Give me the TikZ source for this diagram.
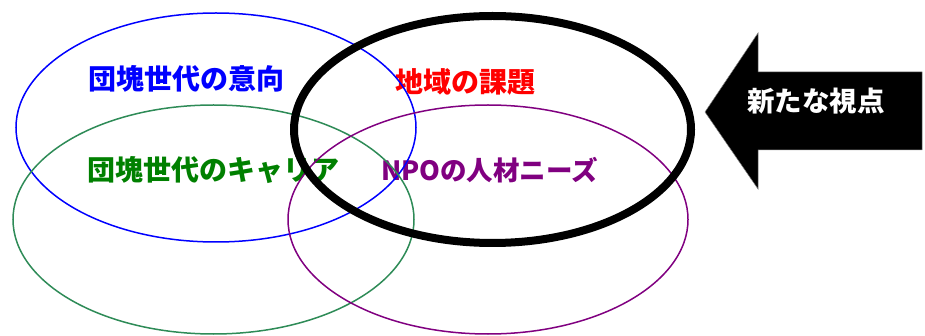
\documentclass[tikz,border=0pt]{standalone}
\usepackage{fontspec}
\newfontfamily\jp{Noto Sans CJK JP}
\definecolor{ellgreen}{RGB}{46,139,87}
\definecolor{txtgreen}{RGB}{0,128,0}
\definecolor{purp}{RGB}{128,0,128}
\begin{document}
\begin{tikzpicture}[x=1pt,y=-1pt,
  lbl/.style={font=\jp\bfseries\fontsize{28}{30}\selectfont, inner sep=0pt, anchor=center},
  thinell/.style={line width=1.5pt}]
\useasboundingbox (0,0) rectangle (925,336);
% labels
\node[lbl, text=blue] (t1) at (186.5,79) {団塊世代の意向};
\node[lbl, text=txtgreen] (t2) at (213.5,170) {団塊世代のキャリア};
\node[lbl, text=red] (t3) at (465.5,82) {地域の課題};
\node[lbl, text=purp, font=\jp\bfseries\fontsize{26.5}{30}\selectfont] (t4) at (489.5,170) {NPOの人材ニーズ};
% ellipses
\draw[thinell, blue] (216,127.5) ellipse [x radius=200, y radius=114.5];
\draw[thinell, ellgreen] (213.5,219.5) ellipse [x radius=200.5, y radius=114.5];
\draw[thinell, purp] (488,219.5) ellipse [x radius=200, y radius=114.5];
\draw[line width=8pt, black] (492.5,129.5) ellipse [x radius=198.5, y radius=113.5];
% arrow
\fill[black, draw=gray, line width=0.5pt] (705,112) -- (758,33) -- (758,72) -- (922,72) -- (922,150) -- (758,150) -- (758,189) -- cycle;
\node[lbl, text=white, font=\jp\bfseries\fontsize{27.5}{30}\selectfont] (t5) at (816,101) {新たな視点};
\end{tikzpicture}
\end{document}
